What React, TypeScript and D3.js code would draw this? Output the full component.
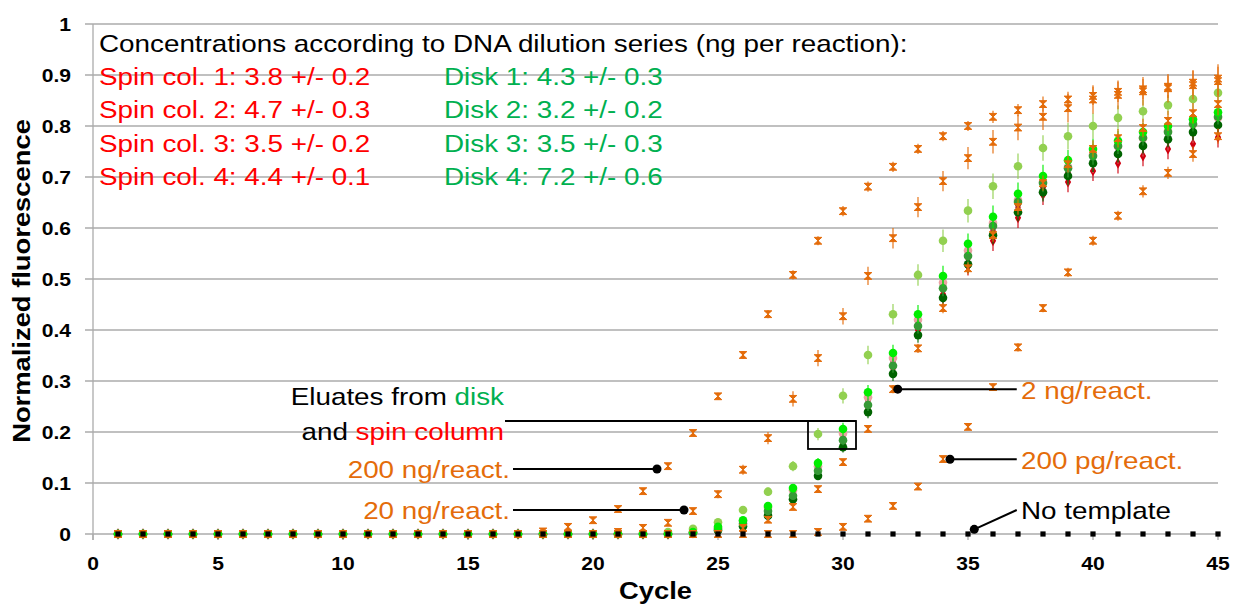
import React from "react";
import * as d3 from "d3";

// cycle numbers (x categories)
const cycles = [
  1, 2, 3, 4, 5, 6, 7, 8, 9, 10, 11, 12, 13, 14, 15, 16, 17, 18, 19, 20, 21, 22, 23,
  24, 25, 26, 27, 28, 29, 30, 31, 32, 33, 34, 35, 36, 37, 38, 39, 40, 41, 42, 43, 44, 45,
];

const xTicks = [0, 5, 10, 15, 20, 25, 30, 35, 40, 45];
const yTicks = [0, 0.1, 0.2, 0.3, 0.4, 0.5, 0.6, 0.7, 0.8, 0.9, 1];

// dilution series (orange)
const ng200Values = [
  0, 0, 0, 0, 0, 0, 0, 0, 0, 0, 0, 0, 0, 0, 0, 0, 0,
  0.005, 0.014, 0.027, 0.049, 0.084, 0.133, 0.198, 0.27, 0.351, 0.431,
  0.508, 0.575, 0.633, 0.681, 0.72, 0.755, 0.78, 0.8, 0.818, 0.831,
  0.843, 0.852, 0.859, 0.867, 0.872, 0.877, 0.885, 0.893,
];
const ng200Err = [
  0, 0, 0, 0, 0, 0, 0, 0, 0, 0, 0, 0, 0, 0, 0, 0, 0,
  0.003, 0.004, 0.004, 0.005, 0.005, 0.006, 0.006, 0.007, 0.008, 0.008,
  0.009, 0.009, 0.01, 0.01, 0.01, 0.01, 0.01, 0.01, 0.012, 0.012,
  0.015, 0.015, 0.018, 0.02, 0.02, 0.022, 0.025, 0.028,
];
const ng20Values = [
  0, 0, 0, 0, 0, 0, 0, 0, 0, 0, 0, 0, 0, 0, 0, 0, 0,
  0, 0, 0, 0.004, 0.012, 0.022, 0.045, 0.078, 0.126, 0.188,
  0.265, 0.345, 0.427, 0.506, 0.58, 0.641, 0.692, 0.737, 0.769, 0.797,
  0.818, 0.835, 0.852, 0.861, 0.868, 0.874, 0.88, 0.888,
];
const ng20Err = [
  0, 0, 0, 0, 0, 0, 0, 0, 0, 0, 0, 0, 0, 0, 0, 0, 0,
  0, 0, 0, 0.003, 0.004, 0.005, 0.006, 0.008, 0.01, 0.012,
  0.015, 0.016, 0.016, 0.018, 0.02, 0.02, 0.02, 0.022, 0.023, 0.025,
  0.026, 0.028, 0.028, 0.028, 0.028, 0.028, 0.028, 0.028,
];
const ng2Values = [
  0, 0, 0, 0, 0, 0, 0, 0, 0, 0, 0, 0, 0, 0, 0, 0, 0,
  0, 0, 0, 0, 0, 0, 0, 0, 0.012, 0.028,
  0.053, 0.088, 0.141, 0.206, 0.284, 0.364, 0.443, 0.521, 0.586, 0.641,
  0.688, 0.725, 0.755, 0.776, 0.796, 0.81, 0.825, 0.843,
];
const ng2Err = [
  0, 0, 0, 0, 0, 0, 0, 0, 0, 0, 0, 0, 0, 0, 0, 0, 0,
  0, 0, 0, 0, 0, 0, 0, 0, 0.003, 0.004,
  0.005, 0.006, 0.006, 0.007, 0.008, 0.009, 0.01, 0.012, 0.013, 0.015,
  0.015, 0.016, 0.017, 0.018, 0.018, 0.02, 0.02, 0.022,
];
const pg200Values = [
  0, 0, 0, 0, 0, 0, 0, 0, 0, 0, 0, 0, 0, 0, 0, 0, 0,
  0, 0, 0, 0, 0, 0, 0, 0, 0, 0,
  0, 0.004, 0.014, 0.03, 0.055, 0.093, 0.147, 0.21, 0.288, 0.366,
  0.443, 0.513, 0.575, 0.624, 0.672, 0.708, 0.745, 0.78,
];
const pg200Err = [
  0, 0, 0, 0, 0, 0, 0, 0, 0, 0, 0, 0, 0, 0, 0, 0, 0,
  0, 0, 0, 0, 0, 0, 0, 0, 0, 0,
  0, 0.002, 0.003, 0.004, 0.005, 0.005, 0.006, 0.006, 0.007, 0.008,
  0.008, 0.009, 0.01, 0.01, 0.012, 0.012, 0.015, 0.015,
];

// disk eluates (greens)
const disk1Values = [
  0, 0, 0, 0, 0, 0, 0, 0, 0, 0, 0, 0, 0, 0, 0, 0, 0,
  0, 0, 0, 0, 0, 0, 0.004, 0.014, 0.027, 0.055,
  0.09, 0.139, 0.206, 0.278, 0.355, 0.431, 0.506, 0.569, 0.622, 0.667,
  0.702, 0.733, 0.755, 0.771, 0.788, 0.8, 0.813, 0.827,
];
const disk1Err = [
  0, 0, 0, 0, 0, 0, 0, 0, 0, 0, 0, 0, 0, 0, 0, 0, 0,
  0, 0, 0, 0, 0, 0, 0.002, 0.003, 0.004, 0.006,
  0.008, 0.01, 0.012, 0.014, 0.016, 0.018, 0.02, 0.02, 0.022, 0.022,
  0.022, 0.02, 0.02, 0.02, 0.018, 0.018, 0.018, 0.018,
];
const disk2Values = [
  0, 0, 0, 0, 0, 0, 0, 0, 0, 0, 0, 0, 0, 0, 0, 0, 0,
  0, 0, 0, 0, 0, 0, 0.002, 0.007, 0.015, 0.036,
  0.068, 0.114, 0.17, 0.239, 0.314, 0.39, 0.463, 0.529, 0.586, 0.631,
  0.67, 0.702, 0.727, 0.745, 0.761, 0.774, 0.788, 0.802,
];
const disk3Values = [
  0, 0, 0, 0, 0, 0, 0, 0, 0, 0, 0, 0, 0, 0, 0, 0, 0,
  0, 0, 0, 0, 0, 0, 0.003, 0.01, 0.02, 0.045,
  0.075, 0.124, 0.184, 0.253, 0.33, 0.408, 0.482, 0.545, 0.604, 0.651,
  0.688, 0.717, 0.741, 0.761, 0.777, 0.788, 0.804, 0.818,
];
const disk23Err = [
  0, 0, 0, 0, 0, 0, 0, 0, 0, 0, 0, 0, 0, 0, 0, 0, 0,
  0, 0, 0, 0, 0, 0, 0.002, 0.003, 0.004, 0.005,
  0.006, 0.008, 0.01, 0.012, 0.014, 0.015, 0.016, 0.017, 0.018, 0.018,
  0.018, 0.018, 0.017, 0.016, 0.015, 0.015, 0.015, 0.015,
];
const disk4Values = [
  0, 0, 0, 0, 0, 0, 0, 0, 0, 0, 0, 0, 0, 0, 0, 0, 0,
  0, 0, 0, 0, 0.002, 0.004, 0.01, 0.023, 0.047, 0.083,
  0.133, 0.196, 0.271, 0.351, 0.431, 0.508, 0.575, 0.634, 0.682, 0.721,
  0.757, 0.78, 0.8, 0.816, 0.829, 0.841, 0.853, 0.865,
];
const disk4Err = [
  0, 0, 0, 0, 0, 0, 0, 0, 0, 0, 0, 0, 0, 0, 0, 0, 0,
  0, 0, 0, 0, 0.001, 0.002, 0.003, 0.004, 0.006, 0.008,
  0.01, 0.012, 0.015, 0.018, 0.02, 0.021, 0.022, 0.023, 0.025, 0.025,
  0.025, 0.026, 0.025, 0.024, 0.022, 0.02, 0.02, 0.02,
];

// spin column eluates (reds)
const spin1Values = [
  0, 0, 0, 0, 0, 0, 0, 0, 0, 0, 0, 0, 0, 0, 0, 0, 0,
  0, 0, 0, 0, 0, 0, 0.003, 0.01, 0.021, 0.046,
  0.077, 0.125, 0.186, 0.256, 0.335, 0.41, 0.48, 0.54, 0.595, 0.64,
  0.676, 0.704, 0.728, 0.746, 0.76, 0.772, 0.786, 0.8,
];
const spin2Values = [
  0, 0, 0, 0, 0, 0, 0, 0, 0, 0, 0, 0, 0, 0, 0, 0, 0,
  0, 0, 0, 0, 0, 0, 0.003, 0.012, 0.025, 0.052,
  0.086, 0.133, 0.197, 0.268, 0.345, 0.42, 0.493, 0.556, 0.61, 0.655,
  0.69, 0.72, 0.743, 0.76, 0.776, 0.79, 0.803, 0.816,
];
const spin3Values = [
  0, 0, 0, 0, 0, 0, 0, 0, 0, 0, 0, 0, 0, 0, 0, 0, 0,
  0, 0, 0, 0, 0, 0, 0.002, 0.008, 0.018, 0.04,
  0.072, 0.118, 0.178, 0.248, 0.325, 0.4, 0.47, 0.525, 0.575, 0.62,
  0.665, 0.69, 0.712, 0.727, 0.741, 0.755, 0.765, 0.778,
];
const spin4Values = [
  0, 0, 0, 0, 0, 0, 0, 0, 0, 0, 0, 0, 0, 0, 0, 0, 0,
  0, 0, 0, 0, 0, 0, 0.003, 0.011, 0.022, 0.048,
  0.08, 0.128, 0.19, 0.262, 0.34, 0.415, 0.487, 0.55, 0.6, 0.645,
  0.68, 0.708, 0.73, 0.748, 0.763, 0.777, 0.79, 0.804,
];
const spinErr = [
  0, 0, 0, 0, 0, 0, 0, 0, 0, 0, 0, 0, 0, 0, 0, 0, 0,
  0, 0, 0, 0, 0, 0, 0.002, 0.003, 0.004, 0.006,
  0.008, 0.01, 0.012, 0.014, 0.015, 0.016, 0.018, 0.018, 0.02, 0.02,
  0.02, 0.02, 0.02, 0.02, 0.02, 0.02, 0.02, 0.02,
];

const noTemplateValues = [
  0, 0, 0, 0, 0, 0, 0, 0, 0, 0, 0, 0, 0, 0, 0, 0, 0, 0, 0, 0, 0, 0, 0,
  0, 0, 0, 0, 0, 0, 0, 0, 0, 0, 0, 0, 0, 0, 0, 0, 0, 0, 0, 0, 0, 0,
];

const concTitle = "Concentrations according to DNA dilution series (ng per reaction):";
const spinLabels = [
  "Spin col. 1: 3.8 +/- 0.2",
  "Spin col. 2: 4.7 +/- 0.3",
  "Spin col. 3: 3.5 +/- 0.2",
  "Spin col. 4: 4.4 +/- 0.1",
];
const diskLabels = [
  "Disk 1: 4.3 +/- 0.3",
  "Disk 2: 3.2 +/- 0.2",
  "Disk 3: 3.5 +/- 0.3",
  "Disk 4: 7.2 +/- 0.6",
];

const ORANGE = "#e46c0a";
const RED = "#ff0000";
const GREEN_TXT = "#00b050";
const STRETCH = 1.14;

type Shape = "x" | "circle" | "diamond" | "square";
type Series = { name: string; values: number[]; errors: number[] | null; color: string; shape: Shape };

// draw order: first is at the bottom
const series: Series[] = [
  { name: "Spin col. 3", values: spin3Values, errors: spinErr, color: "#d00010", shape: "diamond" },
  { name: "Spin col. 1", values: spin1Values, errors: spinErr, color: "#e05a5a", shape: "diamond" },
  { name: "Spin col. 4", values: spin4Values, errors: spinErr, color: "#9b2a2a", shape: "diamond" },
  { name: "Spin col. 2", values: spin2Values, errors: spinErr, color: "#eaa2a2", shape: "circle" },
  { name: "Disk 2", values: disk2Values, errors: disk23Err, color: "#006400", shape: "circle" },
  { name: "Disk 3", values: disk3Values, errors: disk23Err, color: "#369a36", shape: "circle" },
  { name: "Disk 4", values: disk4Values, errors: disk4Err, color: "#92d050", shape: "circle" },
  { name: "Disk 1", values: disk1Values, errors: disk1Err, color: "#00ee00", shape: "circle" },
  { name: "200 pg", values: pg200Values, errors: pg200Err, color: ORANGE, shape: "x" },
  { name: "2 ng", values: ng2Values, errors: ng2Err, color: ORANGE, shape: "x" },
  { name: "20 ng", values: ng20Values, errors: ng20Err, color: ORANGE, shape: "x" },
  { name: "200 ng", values: ng200Values, errors: ng200Err, color: ORANGE, shape: "x" },
  { name: "No template", values: noTemplateValues, errors: null, color: "#000000", shape: "square" },
];

const W = 1233;
const H = 605;
const x = d3.scaleLinear().domain([0, 45]).range([93, 1218]);
const y = d3.scaleLinear().domain([0, 1]).range([534, 24]);

const diamond = d3.symbol(d3.symbolDiamond, 34)();

// text drawn slightly wider, like the original rendering
const SText = ({ tx, ty, anchor = "start", size = 24.4, weight = "normal", fill = "#000", rotate = 0, children }: any) => (
  <g transform={`translate(${tx},${ty}) rotate(${rotate}) scale(${STRETCH},1)`}>
    <text textAnchor={anchor} fontSize={size} fontWeight={weight} fill={fill}>
      {children}
    </text>
  </g>
);

const Marker = ({ shape, color, cx, cy }: { shape: Shape; color: string; cx: number; cy: number }) => {
  if (shape === "x")
    return (
      <path
        transform={`translate(${cx},${cy})`}
        d="M-3.8,-3.4H3.8L-3.8,3.4H3.8Z"
        fill={color}
        stroke={color}
        strokeWidth={1}
        strokeLinejoin="round"
      />
    );
  if (shape === "circle") return <circle cx={cx} cy={cy} r={4.3} fill={color} />;
  if (shape === "diamond") return <path transform={`translate(${cx},${cy})`} d={diamond!} fill={color} />;
  return <rect x={cx - 2.6} y={cy - 2.6} width={5.2} height={5.2} fill={color} />;
};

const Pointer = ({ from, to }: { from: [number, number]; to: [number, number] }) => (
  <g>
    <line x1={x(from[0])} y1={y(from[1])} x2={x(to[0])} y2={y(to[1])} stroke="#000" strokeWidth={2} />
    <circle cx={x(from[0])} cy={y(from[1])} r={4.5} fill="#000" />
  </g>
);

export default function App() {
  return (
    <svg
      width={W}
      height={H}
      style={{ position: "absolute", left: 0, top: 0, background: "#fff" }}
      fontFamily="'Liberation Sans', Arial, sans-serif"
    >
      <rect width={W} height={H} fill="#fff" />

      {/* grid + y ticks */}
      {yTicks.map((t) => (
        <line key={t} x1={85} x2={x(45)} y1={y(t)} y2={y(t)} stroke="#ababab" strokeWidth={1.3} />
      ))}
      <line x1={x(0)} x2={x(0)} y1={y(1)} y2={y(0) + 6} stroke="#ababab" strokeWidth={1.3} />
      {xTicks.map((t) => (
        <line key={t} x1={x(t)} x2={x(t)} y1={y(0)} y2={y(0) + 6} stroke="#ababab" strokeWidth={1.3} />
      ))}

      {yTicks.map((t) => (
        <SText key={t} tx={71} ty={y(t) + 6.6} anchor="end" size={18.5} weight="bold">
          {d3.format("~g")(t)}
        </SText>
      ))}
      {xTicks.map((t) => (
        <SText key={t} tx={x(t)} ty={570} anchor="middle" size={18.5} weight="bold">
          {t}
        </SText>
      ))}

      <SText tx={30} ty={281} anchor="middle" size={24} weight="bold" rotate={-90}>
        Normalized fluorescence
      </SText>
      <SText tx={x(22.5)} ty={599} anchor="middle" size={24} weight="bold">
        Cycle
      </SText>

      {/* data */}
      {series.map((s) => (
        <g key={s.name}>
          {s.errors &&
            s.values.map((v, i) =>
              s.errors![i] > 0 ? (
                <line
                  key={"e" + i}
                  x1={x(cycles[i])}
                  x2={x(cycles[i])}
                  y1={y(v - s.errors![i])}
                  y2={y(v + s.errors![i])}
                  stroke={s.color}
                  strokeOpacity={0.7}
                  strokeWidth={1.6}
                />
              ) : null
            )}
          {s.values.map((v, i) => (
            <Marker key={i} shape={s.shape} color={s.color} cx={x(cycles[i])} cy={y(v)} />
          ))}
        </g>
      ))}

      {/* concentrations box */}
      <SText tx={99} ty={52}>{concTitle}</SText>
      {spinLabels.map((t, i) => (
        <SText key={t} tx={99} ty={85 + i * 33.4} fill={RED}>
          {t}
        </SText>
      ))}
      {diskLabels.map((t, i) => (
        <SText key={t} tx={444} ty={85 + i * 33.4} fill={GREEN_TXT}>
          {t}
        </SText>
      ))}

      {/* eluates callout */}
      <SText tx={504} ty={405} anchor="end">
        Eluates from <tspan fill={GREEN_TXT}>disk</tspan>
      </SText>
      <SText tx={504} ty={440} anchor="end">
        and <tspan fill={RED}>spin column</tspan>
      </SText>
      <line x1={x(16.48)} x2={x(30.52)} y1={y(0.2216)} y2={y(0.2216)} stroke="#000" strokeWidth={1.8} />
      <rect
        x={x(28.6)}
        y={y(0.2216)}
        width={x(30.52) - x(28.6)}
        height={y(0.1667) - y(0.2216)}
        fill="none"
        stroke="#000"
        strokeWidth={1.8}
      />

      {/* dilution labels */}
      <Pointer from={[22.56, 0.1275]} to={[16.8, 0.1275]} />
      <SText tx={510} ty={478} anchor="end" fill={ORANGE}>200 ng/react.</SText>
      <Pointer from={[23.64, 0.047]} to={[16.8, 0.047]} />
      <SText tx={510} ty={519} anchor="end" fill={ORANGE}>20 ng/react.</SText>
      <Pointer from={[32.19, 0.284]} to={[36.95, 0.284]} />
      <SText tx={1021} ty={399} fill={ORANGE}>2 ng/react.</SText>
      <Pointer from={[34.28, 0.1465]} to={[36.95, 0.1465]} />
      <SText tx={1021} ty={469} fill={ORANGE}>200 pg/react.</SText>
      <Pointer from={[35.25, 0.0092]} to={[36.95, 0.047]} />
      <SText tx={1021} ty={519}>No template</SText>
    </svg>
  );
}
